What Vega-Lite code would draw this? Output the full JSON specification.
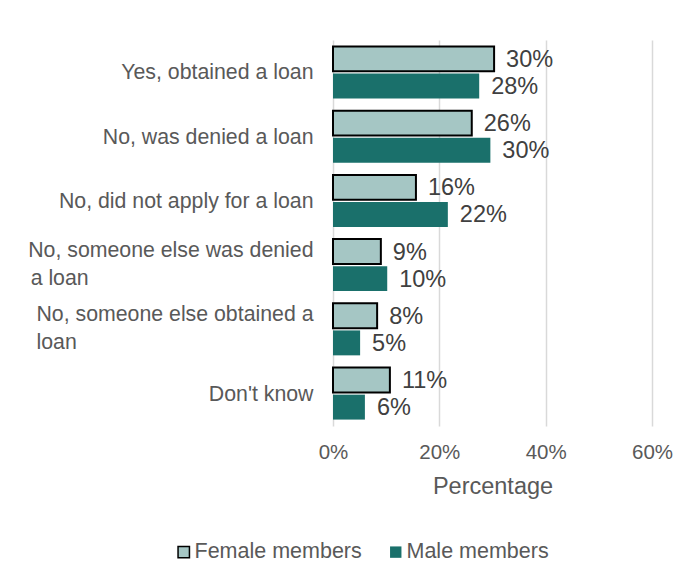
{
  "$schema": "https://vega.github.io/schema/vega-lite/v6.json",
  "width": 319,
  "height": 386,
  "padding": {"left": 5, "top": 40, "right": 5, "bottom": 5},
  "background": "white",
  "config": {"font": "Liberation Sans", "view": {"stroke": null}},
  "data": {"values": [
    {"response": "Yes, obtained a loan", "gender": "Female members", "value": 0.303},
    {"response": "Yes, obtained a loan", "gender": "Male members", "value": 0.275},
    {"response": "No, was denied a loan", "gender": "Female members", "value": 0.261},
    {"response": "No, was denied a loan", "gender": "Male members", "value": 0.296},
    {"response": "No, did not apply for a loan", "gender": "Female members", "value": 0.156},
    {"response": "No, did not apply for a loan", "gender": "Male members", "value": 0.216},
    {"response": "No, someone else was denied a loan", "gender": "Female members", "value": 0.09},
    {"response": "No, someone else was denied a loan", "gender": "Male members", "value": 0.102},
    {"response": "No, someone else obtained a loan", "gender": "Female members", "value": 0.083},
    {"response": "No, someone else obtained a loan", "gender": "Male members", "value": 0.051},
    {"response": "Don't know", "gender": "Female members", "value": 0.107},
    {"response": "Don't know", "gender": "Male members", "value": 0.06}
  ]},
  "encoding": {
    "y": {
      "field": "response", "type": "nominal",
      "sort": ["Yes, obtained a loan", "No, was denied a loan", "No, did not apply for a loan", "No, someone else was denied a loan", "No, someone else obtained a loan", "Don't know"],
      "scale": {"paddingInner": 0.19, "paddingOuter": 0.1},
      "axis": {
        "title": null, "domain": false, "ticks": false, "labelPadding": 20, "minExtent": 328,
        "labelFontSize": 21.3, "labelColor": "#595959", "labelLimit": 400, "labelLineHeight": 28,
        "labelOffset": {"condition": {"test": "indexof(datum.label, 'someone') >= 0", "value": -14}, "value": 1},
        "labelExpr": "datum.label == 'No, someone else was denied a loan' ? ['No, someone else was denied', 'a loan\u00a0\u00a0\u00a0\u00a0\u00a0\u00a0\u00a0\u00a0\u00a0\u00a0\u00a0\u00a0\u00a0\u00a0\u00a0\u00a0\u00a0\u00a0\u00a0\u00a0\u00a0\u00a0\u00a0\u00a0\u00a0\u00a0\u00a0\u00a0\u00a0\u00a0\u00a0\u00a0\u00a0\u00a0\u00a0\u00a0\u00a0\u00a0\u200b'] : datum.label == 'No, someone else obtained a loan' ? ['No, someone else obtained a', 'loan\u00a0\u00a0\u00a0\u00a0\u00a0\u00a0\u00a0\u00a0\u00a0\u00a0\u00a0\u00a0\u00a0\u00a0\u00a0\u00a0\u00a0\u00a0\u00a0\u00a0\u00a0\u00a0\u00a0\u00a0\u00a0\u00a0\u00a0\u00a0\u00a0\u00a0\u00a0\u00a0\u00a0\u00a0\u00a0\u00a0\u00a0\u00a0\u00a0\u00a0\u200b'] : datum.label"
      }
    },
    "yOffset": {"field": "gender", "type": "nominal", "sort": ["Female members", "Male members"], "scale": {"paddingInner": 0.08}},
    "x": {
      "field": "value", "type": "quantitative",
      "scale": {"domain": [0, 0.6], "nice": false},
      "axis": {
        "values": [0, 0.2, 0.4, 0.6], "format": ".0%", "grid": true, "gridColor": "#d9d9d9", "gridWidth": 1.5,
        "domain": false, "ticks": false, "labelPadding": 16, "labelFontSize": 20.5, "labelColor": "#595959",
        "labelAlign": "center", "labelFlush": false,
        "title": "Percentage", "titleFontSize": 23.5, "titleFontWeight": "normal", "titleColor": "#595959", "titlePadding": 12
      }
    }
  },
  "layer": [
    {
      "mark": {"type": "bar", "strokeWidth": 2},
      "encoding": {
        "color": {"field": "gender", "type": "nominal", "title": null,
          "scale": {"domain": ["Female members", "Male members"], "range": ["#a5c6c4", "#1a706b"]},
          "legend": {"orient": "none", "direction": "horizontal", "legendX": -160, "legendY": 501, "labelFontSize": 21.5, "labelColor": "#595959", "labelLimit": 300, "symbolType": "square", "symbolSize": 130, "symbolOpacity": 1, "columnPadding": 23, "labelOffset": 0}},
        "stroke": {"field": "gender", "type": "nominal", "title": null,
          "scale": {"domain": ["Female members", "Male members"], "range": ["#000000", "transparent"]}}
      }
    },
    {
      "mark": {"type": "text", "align": "left", "baseline": "middle", "dx": 12, "dy": 1, "fontSize": 23.5, "color": "#404040"},
      "encoding": {"text": {"field": "value", "type": "quantitative", "format": ".0%"}}
    }
  ]
}
